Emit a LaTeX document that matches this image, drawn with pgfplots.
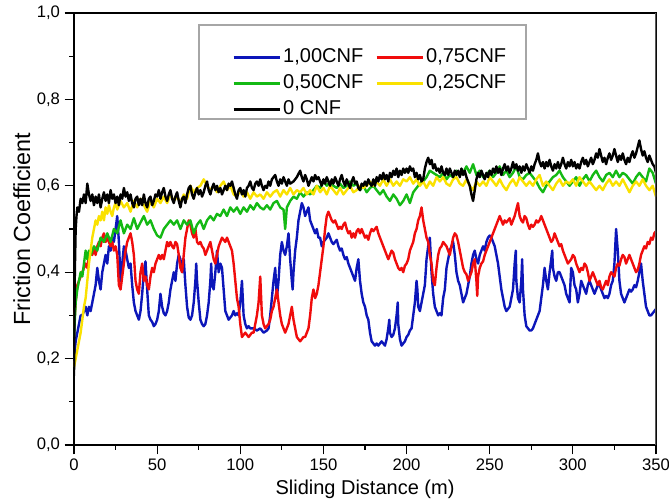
\documentclass[border=0pt]{standalone}
\usepackage{fontspec}
\setmainfont{Liberation Sans}
\usepackage{pgfplots}
\pgfplotsset{compat=1.18}
\usetikzlibrary{calc}
\definecolor{cblue}{RGB}{12,22,185}
\definecolor{cred}{RGB}{240,12,12}
\definecolor{cgreen}{RGB}{20,185,20}
\definecolor{cyellow}{RGB}{250,225,0}
\begin{document}
\begin{tikzpicture}
\begin{axis}[
  scale only axis, width=436.5pt, height=324pt,
  xmin=0, xmax=350, ymin=0, ymax=1,
  xtick={0,50,100,150,200,250,300,350},
  ytick={0,0.2,0.4,0.6,0.8,1},
  minor tick num=1,
  tick align=outside, xtick pos=bottom, ytick pos=left,
  major tick length=7pt, minor tick length=3.5pt,
  tick style={black, line width=0.9pt},
  axis line style={black, line width=1pt},
  /pgf/number format/assume math mode=true,
  yticklabel style={/pgf/number format/.cd, use comma, fixed, fixed zerofill, precision=1},
  xticklabel style={/pgf/number format/.cd, fixed, precision=0},
  ticklabel style={font=\fontsize{12.5}{14}\selectfont},
  xlabel={Sliding Distance (m)}, ylabel={Friction Coefficient},
  xlabel style={font=\fontsize{15}{18}\selectfont},
  ylabel style={font=\fontsize{17.5}{20}\selectfont, yshift=-2pt},
  legend columns=2,
  legend cell align=left,
  legend style={draw=none, fill=none, at={(rel axis cs:0.2715,0.9222)}, anchor=north west,
    inner sep=0pt, font=\fontsize{15}{18}\selectfont, row sep=3.5pt,
    nodes={inner sep=1pt, text height=11pt, text depth=3pt},
    /tikz/every odd column/.append style={column sep=0pt},
    /tikz/every even column/.append style={column sep=8pt}},
  legend image code/.code={\draw[#1, line width=2.2pt] (0pt,0pt) -- (35pt,0pt);},
  every axis plot/.append style={line width=1.8pt, line join=round},
]
\addplot[cblue] coordinates {
(0,0.19) (0.5,0.22) (1,0.24) (2,0.26) (3,0.28) (4,0.3) (5,0.3) (6,0.31) (7,0.32) (8,0.3) (9,0.32) (10,0.31) (11,0.33) (12,0.35) (13,0.37) (14,0.41) (15,0.38) (16,0.36) (17,0.4) (18,0.42) (19,0.44) (20,0.42) (21,0.46) (22,0.45) (23,0.48) (24,0.47) (25,0.5) (26,0.53) (27,0.47) (28,0.38) (29,0.42) (30,0.46) (31,0.45) (32,0.43) (33,0.41) (34,0.42) (35,0.37) (36,0.33) (37,0.31) (38,0.3) (39,0.29) (40,0.31) (41,0.35) (42,0.4) (43,0.425) (44,0.36) (45,0.3) (46,0.29) (47,0.285) (48,0.275) (49,0.28) (50,0.29) (51,0.31) (52,0.35) (53,0.32) (54,0.305) (55,0.3) (56,0.31) (57,0.33) (58,0.36) (59,0.38) (60,0.4) (61,0.38) (62,0.42) (63,0.44) (64,0.43) (65,0.4) (66,0.43) (67,0.37) (68,0.32) (69,0.295) (70,0.29) (71,0.3) (72,0.33) (73,0.38) (73.5,0.42) (74,0.38) (75,0.33) (76,0.29) (77,0.28) (78,0.275) (79,0.28) (80,0.3) (81,0.33) (82,0.38) (82.5,0.42) (83,0.37) (84,0.36) (85,0.4) (86,0.45) (87,0.4) (88,0.42) (89,0.41) (90,0.36) (91,0.31) (92,0.3) (93,0.29) (94,0.295) (95,0.3) (96,0.31) (97,0.3) (98,0.305) (99,0.3) (100,0.33) (101,0.38) (102,0.3) (103,0.28) (104,0.27) (105,0.275) (106,0.27) (108,0.27) (110,0.265) (112,0.27) (114,0.26) (116,0.265) (117,0.27) (118,0.3) (119,0.34) (120,0.38) (121,0.41) (122,0.34) (123,0.38) (124,0.44) (125,0.47) (126,0.45) (127,0.44) (128,0.46) (129,0.49) (130,0.43) (131,0.38) (131.5,0.36) (132,0.4) (133,0.45) (134,0.48) (135,0.52) (136,0.54) (137,0.56) (138,0.55) (139,0.53) (140,0.54) (141,0.55) (142,0.52) (143,0.51) (144,0.5) (145,0.49) (146,0.5) (147,0.48) (148,0.48) (149,0.46) (150,0.47) (151,0.475) (152,0.48) (153,0.49) (154,0.48) (155,0.47) (156,0.465) (157,0.47) (158,0.475) (159,0.46) (160,0.45) (161,0.455) (162,0.44) (163,0.43) (164,0.435) (165,0.42) (166,0.41) (167,0.4) (168,0.39) (169,0.38) (170,0.41) (171,0.43) (172,0.38) (173,0.35) (174,0.33) (175,0.32) (176,0.3) (177,0.29) (178,0.26) (179,0.24) (180,0.235) (181,0.23) (182,0.235) (183,0.23) (184,0.235) (185,0.24) (186,0.235) (187,0.23) (188,0.245) (189,0.27) (189.6,0.29) (190,0.26) (191,0.25) (192,0.255) (193,0.27) (194,0.3) (194.7,0.33) (195,0.28) (196,0.245) (197,0.23) (198,0.235) (199,0.24) (200,0.25) (201,0.255) (202,0.265) (203,0.27) (204,0.3) (205,0.33) (206,0.38) (206.5,0.36) (207,0.32) (208,0.31) (209,0.33) (210,0.35) (211,0.37) (212,0.43) (213,0.46) (214,0.48) (215,0.4) (216,0.35) (217,0.32) (218,0.31) (219,0.3) (220,0.305) (221,0.3) (222,0.34) (223,0.36) (224,0.41) (225,0.43) (226,0.45) (227,0.46) (228,0.47) (229,0.44) (230,0.4) (231,0.38) (232,0.37) (233,0.35) (234,0.33) (235,0.34) (236,0.35) (237,0.37) (238,0.39) (239,0.42) (240,0.44) (241,0.45) (242,0.43) (243,0.42) (244,0.44) (245,0.45) (246,0.46) (247,0.45) (248,0.47) (249,0.48) (250,0.485) (251,0.48) (252,0.47) (253,0.46) (254,0.44) (255,0.42) (256,0.39) (257,0.36) (258,0.34) (259,0.32) (260,0.31) (261,0.315) (262,0.32) (263,0.34) (264,0.36) (265,0.42) (265.7,0.45) (266,0.38) (267,0.34) (268,0.33) (269,0.38) (269.5,0.43) (270,0.36) (271,0.3) (272,0.275) (273,0.27) (274,0.265) (275,0.265) (276,0.27) (277,0.28) (278,0.29) (279,0.3) (280,0.31) (281,0.34) (282,0.37) (283,0.41) (284,0.38) (285,0.36) (286,0.4) (287,0.43) (287.6,0.45) (288,0.41) (289,0.39) (290,0.38) (291,0.4) (292,0.4) (293,0.39) (294,0.38) (295,0.37) (296,0.35) (297,0.34) (298,0.33) (299,0.41) (300,0.4) (301,0.37) (302,0.36) (303,0.33) (304,0.35) (305,0.38) (306,0.37) (307,0.36) (308,0.35) (309,0.37) (310,0.38) (311,0.37) (312,0.36) (313,0.35) (314,0.36) (315,0.37) (316,0.37) (317,0.36) (318,0.35) (319,0.34) (320,0.345) (321,0.34) (322,0.35) (323,0.37) (324,0.38) (325,0.42) (326,0.5) (327,0.45) (328,0.38) (329,0.35) (330,0.34) (331,0.33) (332,0.34) (333,0.35) (334,0.36) (335,0.355) (336,0.36) (337,0.37) (338,0.365) (339,0.38) (340,0.4) (341,0.42) (342,0.38) (343,0.35) (344,0.32) (345,0.31) (346,0.3) (347,0.3) (348,0.305) (349,0.31) (350,0.315)
};
\addlegendentry{1,00CNF}
\addplot[cred] coordinates {
(0,0.27) (1,0.33) (2,0.37) (3,0.38) (4,0.39) (5,0.4) (6,0.41) (7,0.42) (8,0.41) (9,0.44) (10,0.45) (11,0.44) (12,0.455) (13,0.44) (14,0.46) (15,0.47) (16,0.46) (17,0.48) (18,0.49) (19,0.47) (20,0.48) (21,0.47) (22,0.46) (23,0.47) (24,0.45) (25,0.46) (26,0.44) (27,0.37) (28,0.36) (29,0.39) (30,0.42) (31,0.45) (32,0.47) (33,0.48) (34,0.49) (35,0.47) (36,0.44) (37,0.38) (38,0.36) (39,0.35) (40,0.4) (41,0.42) (42,0.38) (43,0.39) (44,0.37) (45,0.36) (46,0.39) (47,0.41) (48,0.4) (49,0.42) (50,0.43) (51,0.44) (52,0.43) (53,0.44) (54,0.43) (55,0.45) (56,0.47) (57,0.46) (58,0.47) (59,0.46) (60,0.455) (61,0.47) (62,0.465) (63,0.44) (64,0.41) (65,0.4) (66,0.44) (67,0.48) (68,0.5) (69,0.52) (70,0.51) (71,0.49) (72,0.48) (73,0.5) (74,0.47) (75,0.465) (76,0.47) (77,0.46) (78,0.455) (79,0.44) (80,0.45) (81,0.46) (82,0.47) (83,0.45) (84,0.43) (85,0.42) (86,0.44) (87,0.46) (88,0.47) (89,0.48) (90,0.475) (91,0.47) (92,0.48) (93,0.47) (94,0.46) (95,0.45) (96,0.42) (97,0.38) (98,0.34) (99,0.32) (100,0.28) (101,0.25) (102,0.255) (103,0.26) (104,0.255) (105,0.25) (106,0.255) (107,0.26) (108,0.26) (109,0.28) (110,0.3) (111,0.33) (112,0.39) (113,0.3) (114,0.28) (115,0.27) (116,0.275) (117,0.28) (118,0.29) (119,0.31) (120,0.32) (121,0.34) (122,0.36) (123,0.33) (124,0.3) (125,0.28) (126,0.27) (127,0.26) (128,0.27) (129,0.28) (130,0.3) (131,0.32) (132,0.29) (133,0.27) (134,0.25) (135,0.245) (136,0.24) (137,0.245) (138,0.25) (139,0.25) (140,0.26) (141,0.27) (142,0.3) (143,0.34) (144,0.36) (145,0.34) (146,0.35) (147,0.37) (148,0.4) (149,0.43) (150,0.46) (151,0.5) (152,0.53) (153,0.54) (154,0.53) (155,0.52) (156,0.515) (157,0.52) (158,0.51) (159,0.5) (160,0.505) (161,0.5) (162,0.51) (163,0.515) (164,0.5) (165,0.49) (166,0.495) (167,0.48) (168,0.49) (169,0.48) (170,0.495) (171,0.5) (172,0.49) (173,0.5) (174,0.49) (175,0.48) (176,0.485) (177,0.475) (178,0.49) (179,0.5) (180,0.495) (181,0.5) (182,0.505) (183,0.49) (184,0.48) (185,0.47) (186,0.46) (187,0.45) (188,0.44) (189,0.43) (190,0.44) (191,0.45) (192,0.445) (193,0.43) (194,0.42) (195,0.41) (196,0.405) (197,0.41) (198,0.4) (199,0.415) (200,0.42) (201,0.43) (202,0.45) (203,0.46) (204,0.47) (205,0.49) (206,0.5) (207,0.52) (208,0.53) (209,0.55) (210,0.52) (211,0.5) (212,0.48) (213,0.47) (214,0.44) (215,0.42) (216,0.38) (217,0.37) (218,0.41) (219,0.44) (220,0.455) (221,0.46) (222,0.47) (223,0.465) (224,0.46) (225,0.45) (226,0.44) (227,0.46) (228,0.48) (229,0.49) (230,0.485) (231,0.47) (232,0.45) (233,0.43) (234,0.41) (235,0.4) (236,0.395) (237,0.38) (238,0.39) (239,0.4) (240,0.42) (241,0.43) (242,0.38) (242.5,0.345) (243,0.39) (244,0.41) (245,0.42) (246,0.425) (247,0.44) (248,0.45) (249,0.46) (250,0.47) (251,0.48) (252,0.49) (253,0.5) (254,0.51) (255,0.52) (256,0.53) (257,0.52) (258,0.51) (259,0.52) (260,0.515) (261,0.52) (262,0.525) (263,0.51) (264,0.52) (265,0.53) (266,0.545) (267,0.56) (268,0.53) (269,0.52) (270,0.515) (271,0.53) (272,0.525) (273,0.51) (274,0.5) (275,0.51) (276,0.505) (277,0.51) (278,0.52) (279,0.515) (280,0.52) (281,0.53) (282,0.52) (283,0.51) (284,0.5) (285,0.49) (286,0.48) (287,0.47) (288,0.475) (289,0.49) (290,0.48) (291,0.47) (292,0.46) (293,0.465) (294,0.45) (295,0.44) (296,0.43) (297,0.42) (298,0.425) (299,0.43) (300,0.44) (301,0.435) (302,0.42) (303,0.41) (304,0.4) (305,0.41) (306,0.405) (307,0.42) (308,0.415) (309,0.4) (310,0.38) (311,0.39) (312,0.4) (313,0.39) (314,0.38) (315,0.37) (316,0.38) (317,0.365) (318,0.36) (319,0.37) (320,0.38) (321,0.37) (322,0.39) (323,0.4) (324,0.395) (325,0.39) (326,0.41) (327,0.42) (328,0.415) (329,0.43) (330,0.44) (331,0.435) (332,0.42) (333,0.43) (334,0.44) (335,0.43) (336,0.42) (337,0.41) (338,0.4) (339,0.405) (340,0.42) (341,0.44) (342,0.45) (343,0.46) (344,0.455) (345,0.47) (346,0.465) (347,0.48) (348,0.475) (349,0.49) (350,0.495)
};
\addlegendentry{0,75CNF}
\addplot[cgreen] coordinates {
(0,0.25) (1,0.33) (2,0.36) (3,0.38) (4,0.4) (5,0.39) (6,0.42) (7,0.45) (8,0.43) (9,0.45) (10,0.44) (12,0.46) (14,0.45) (16,0.48) (18,0.47) (20,0.49) (22,0.47) (24,0.5) (26,0.49) (28,0.52) (30,0.49) (32,0.51) (34,0.5) (36,0.525) (38,0.5) (40,0.515) (42,0.53) (44,0.51) (46,0.52) (48,0.5) (50,0.485) (52,0.48) (54,0.5) (56,0.51) (58,0.52) (60,0.51) (62,0.52) (64,0.5) (66,0.52) (68,0.51) (70,0.52) (72,0.49) (74,0.51) (76,0.52) (78,0.5) (80,0.52) (82,0.53) (84,0.52) (86,0.535) (88,0.53) (90,0.545) (92,0.53) (94,0.55) (96,0.54) (98,0.55) (100,0.535) (102,0.55) (104,0.54) (106,0.555) (108,0.545) (110,0.56) (112,0.55) (114,0.545) (116,0.555) (118,0.545) (120,0.56) (122,0.565) (124,0.55) (126,0.545) (127,0.5) (128,0.55) (130,0.565) (132,0.575) (134,0.57) (136,0.585) (138,0.575) (140,0.585) (142,0.58) (144,0.59) (146,0.6) (148,0.595) (150,0.61) (152,0.6) (154,0.61) (156,0.6) (158,0.595) (160,0.605) (162,0.595) (164,0.6) (166,0.61) (168,0.6) (170,0.605) (172,0.59) (174,0.6) (176,0.585) (178,0.595) (180,0.6) (182,0.59) (184,0.58) (186,0.59) (188,0.575) (190,0.565) (192,0.58) (194,0.57) (196,0.555) (198,0.565) (200,0.58) (202,0.56) (204,0.585) (206,0.595) (208,0.605) (210,0.61) (212,0.62) (214,0.635) (216,0.63) (218,0.625) (220,0.62) (222,0.63) (224,0.615) (226,0.625) (228,0.62) (230,0.635) (232,0.625) (234,0.63) (236,0.645) (238,0.63) (240,0.65) (242,0.625) (244,0.635) (246,0.62) (248,0.625) (250,0.635) (252,0.62) (254,0.63) (256,0.645) (258,0.625) (260,0.635) (262,0.62) (264,0.63) (266,0.645) (268,0.62) (270,0.615) (272,0.625) (274,0.63) (276,0.62) (278,0.61) (280,0.595) (282,0.585) (284,0.6) (286,0.61) (288,0.62) (290,0.625) (292,0.635) (294,0.62) (296,0.61) (298,0.6) (300,0.61) (302,0.62) (304,0.6) (306,0.615) (308,0.625) (310,0.61) (312,0.625) (314,0.635) (316,0.62) (318,0.61) (320,0.625) (322,0.63) (324,0.62) (326,0.635) (328,0.62) (330,0.63) (332,0.625) (334,0.615) (336,0.605) (338,0.62) (340,0.63) (342,0.62) (344,0.61) (346,0.64) (348,0.63) (350,0.605)
};
\addlegendentry{0,50CNF}
\addplot[cyellow] coordinates {
(0,0.18) (1,0.2) (2,0.22) (3,0.24) (4,0.26) (5,0.29) (6,0.32) (7,0.34) (8,0.38) (9,0.42) (10,0.45) (11,0.48) (12,0.5) (13,0.52) (14,0.51) (15,0.53) (16,0.52) (17,0.54) (18,0.52) (19,0.55) (20,0.535) (21,0.555) (22,0.54) (23,0.53) (24,0.55) (25,0.56) (26,0.545) (28,0.565) (30,0.55) (32,0.56) (34,0.54) (36,0.565) (38,0.55) (40,0.57) (42,0.555) (44,0.54) (46,0.565) (48,0.55) (50,0.57) (52,0.56) (54,0.575) (56,0.56) (58,0.58) (60,0.565) (62,0.575) (64,0.56) (66,0.58) (68,0.57) (70,0.6) (72,0.585) (74,0.595) (76,0.6) (78,0.615) (80,0.6) (82,0.59) (84,0.6) (86,0.585) (88,0.6) (90,0.61) (92,0.59) (94,0.6) (96,0.58) (98,0.575) (100,0.59) (102,0.575) (104,0.585) (106,0.57) (108,0.585) (110,0.575) (112,0.58) (114,0.57) (116,0.585) (118,0.575) (120,0.585) (122,0.59) (124,0.575) (126,0.59) (128,0.58) (130,0.595) (132,0.58) (134,0.59) (136,0.585) (138,0.595) (140,0.58) (142,0.59) (144,0.58) (146,0.6) (148,0.585) (150,0.595) (152,0.58) (154,0.6) (156,0.59) (158,0.58) (160,0.595) (162,0.58) (164,0.59) (166,0.6) (168,0.585) (170,0.59) (172,0.6) (174,0.595) (176,0.6) (178,0.61) (180,0.6) (182,0.61) (184,0.6) (186,0.615) (188,0.6) (190,0.615) (192,0.6) (194,0.61) (196,0.6) (198,0.615) (200,0.61) (202,0.62) (204,0.605) (206,0.615) (208,0.6) (210,0.61) (212,0.595) (214,0.61) (216,0.6) (218,0.62) (220,0.61) (222,0.62) (224,0.605) (226,0.6) (228,0.615) (230,0.62) (232,0.605) (234,0.6) (236,0.615) (238,0.6) (240,0.59) (242,0.61) (244,0.6) (246,0.61) (248,0.6) (250,0.62) (252,0.61) (254,0.6) (256,0.615) (258,0.6) (260,0.59) (262,0.605) (264,0.615) (266,0.6) (268,0.62) (270,0.61) (272,0.6) (274,0.61) (276,0.6) (278,0.615) (280,0.625) (282,0.6) (284,0.61) (286,0.6) (288,0.59) (290,0.605) (292,0.615) (294,0.6) (296,0.61) (298,0.605) (300,0.615) (302,0.6) (304,0.62) (306,0.61) (308,0.6) (310,0.61) (312,0.6) (314,0.59) (316,0.6) (318,0.59) (320,0.605) (322,0.615) (324,0.6) (326,0.61) (328,0.6) (330,0.615) (332,0.6) (334,0.585) (336,0.6) (338,0.61) (340,0.6) (342,0.615) (344,0.6) (346,0.59) (348,0.6) (350,0.575)
};
\addlegendentry{0,25CNF}
\addplot[black] coordinates {
(0,0.16) (0.5,0.4) (1,0.5) (1.5,0.53) (2,0.55) (3,0.54) (4,0.57) (5,0.56) (6,0.58) (7,0.56) (8,0.605) (9,0.58) (10,0.565) (11,0.58) (12,0.555) (13,0.575) (14,0.56) (15,0.58) (16,0.55) (17,0.57) (18,0.585) (19,0.565) (20,0.58) (21,0.56) (22,0.59) (23,0.57) (24,0.58) (25,0.56) (26,0.575) (27,0.555) (28,0.58) (29,0.57) (30,0.595) (31,0.575) (32,0.585) (33,0.565) (34,0.58) (35,0.56) (36,0.55) (37,0.57) (38,0.575) (39,0.555) (40,0.57) (41,0.555) (42,0.58) (43,0.56) (44,0.55) (45,0.57) (46,0.575) (47,0.555) (48,0.565) (49,0.58) (50,0.575) (51,0.59) (52,0.57) (53,0.585) (54,0.595) (55,0.575) (56,0.565) (57,0.58) (58,0.59) (59,0.57) (60,0.56) (61,0.575) (62,0.585) (63,0.565) (64,0.55) (65,0.57) (66,0.575) (67,0.56) (68,0.58) (69,0.595) (70,0.6) (71,0.58) (72,0.57) (73,0.585) (74,0.595) (75,0.58) (76,0.59) (77,0.575) (78,0.585) (79,0.6) (80,0.61) (81,0.59) (82,0.58) (83,0.595) (84,0.605) (85,0.59) (86,0.6) (87,0.585) (88,0.595) (89,0.58) (90,0.59) (91,0.6) (92,0.59) (93,0.605) (94,0.6) (95,0.61) (96,0.595) (97,0.58) (98,0.57) (99,0.59) (100,0.595) (101,0.58) (102,0.59) (103,0.575) (104,0.595) (105,0.6) (106,0.61) (107,0.595) (108,0.59) (109,0.605) (110,0.61) (111,0.6) (112,0.615) (113,0.6) (114,0.59) (115,0.6) (116,0.595) (117,0.61) (118,0.6) (119,0.615) (120,0.62) (121,0.625) (122,0.61) (123,0.6) (124,0.615) (125,0.605) (126,0.62) (127,0.61) (128,0.6) (129,0.615) (130,0.605) (132,0.61) (134,0.62) (136,0.635) (137,0.62) (138,0.61) (139,0.625) (140,0.615) (141,0.6) (142,0.61) (143,0.62) (144,0.61) (145,0.625) (146,0.615) (147,0.62) (148,0.61) (149,0.6) (150,0.615) (151,0.605) (152,0.62) (153,0.61) (154,0.6) (155,0.615) (156,0.605) (157,0.62) (158,0.61) (159,0.6) (160,0.615) (161,0.625) (162,0.61) (163,0.6) (164,0.615) (165,0.605) (166,0.595) (167,0.61) (168,0.62) (169,0.605) (170,0.61) (171,0.595) (172,0.59) (173,0.605) (174,0.6) (175,0.61) (176,0.6) (177,0.615) (178,0.605) (179,0.6) (180,0.615) (181,0.6) (182,0.62) (183,0.61) (184,0.625) (185,0.615) (186,0.63) (187,0.615) (188,0.625) (189,0.61) (190,0.63) (191,0.62) (192,0.635) (193,0.625) (194,0.64) (195,0.62) (196,0.635) (197,0.625) (198,0.64) (199,0.63) (200,0.64) (201,0.63) (202,0.645) (203,0.635) (204,0.64) (205,0.62) (206,0.63) (207,0.615) (208,0.625) (209,0.61) (210,0.615) (211,0.64) (212,0.655) (213,0.665) (214,0.65) (215,0.66) (216,0.64) (217,0.65) (218,0.635) (219,0.64) (220,0.63) (221,0.645) (222,0.63) (223,0.625) (224,0.64) (225,0.625) (226,0.64) (227,0.63) (228,0.62) (229,0.635) (230,0.625) (231,0.635) (232,0.62) (233,0.64) (234,0.625) (235,0.635) (236,0.62) (237,0.61) (238,0.6) (239,0.58) (240,0.565) (241,0.59) (242,0.615) (243,0.63) (244,0.62) (245,0.635) (246,0.625) (247,0.615) (248,0.63) (249,0.62) (250,0.635) (251,0.625) (252,0.64) (253,0.63) (254,0.645) (255,0.63) (256,0.64) (257,0.625) (258,0.64) (259,0.65) (260,0.635) (261,0.645) (262,0.63) (263,0.64) (264,0.655) (265,0.64) (266,0.65) (267,0.635) (268,0.645) (269,0.63) (270,0.645) (271,0.635) (272,0.65) (273,0.64) (274,0.63) (275,0.645) (276,0.635) (277,0.65) (278,0.66) (279,0.675) (280,0.655) (281,0.645) (282,0.655) (283,0.64) (284,0.655) (285,0.645) (286,0.66) (287,0.645) (288,0.635) (289,0.65) (290,0.64) (291,0.655) (292,0.64) (293,0.65) (294,0.665) (295,0.65) (296,0.64) (297,0.655) (298,0.645) (299,0.66) (300,0.645) (301,0.655) (302,0.64) (303,0.65) (304,0.64) (305,0.655) (306,0.665) (307,0.65) (308,0.66) (309,0.645) (310,0.655) (311,0.665) (312,0.65) (313,0.66) (314,0.675) (315,0.665) (316,0.685) (317,0.67) (318,0.655) (319,0.665) (320,0.65) (321,0.665) (322,0.675) (323,0.66) (324,0.67) (325,0.685) (326,0.67) (327,0.655) (328,0.67) (329,0.66) (330,0.675) (331,0.66) (332,0.65) (333,0.665) (334,0.655) (335,0.67) (336,0.68) (337,0.665) (338,0.675) (339,0.69) (340,0.705) (341,0.685) (342,0.67) (343,0.68) (344,0.665) (345,0.655) (346,0.67) (347,0.66) (348,0.65) (349,0.645) (350,0.63)
};
\addlegendentry{0 CNF}
\draw[gray!70, line width=0.8pt] (rel axis cs:0.2148,0.9722) rectangle (rel axis cs:0.7766,0.7546);
\draw[black!65, line width=2pt] (rel axis cs:1,0) -- (rel axis cs:1,1);
\end{axis}
\pgfresetboundingbox
\path[use as bounding box] ($(current axis.south west)+(-55.5pt,-42.75pt)$) rectangle ($(current axis.north east)+(9.75pt,9.75pt)$);
\end{tikzpicture}
\end{document}
